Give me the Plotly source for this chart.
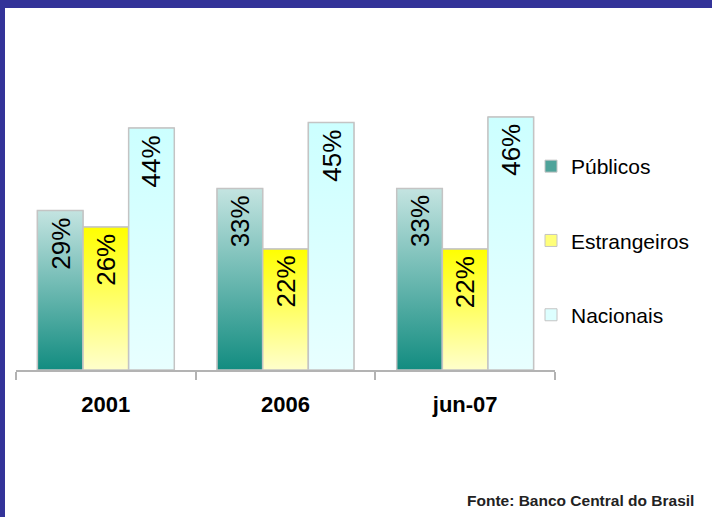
import plotly.graph_objects as go

# Participação no total de ativos do sistema bancário, por controle de capital
categories = ["2001", "2006", "jun-07"]
series_names = ["Públicos", "Estrangeiros", "Nacionais"]
publicos = [29, 33, 33]
estrangeiros = [26, 22, 22]
nacionais = [44, 45, 46]
series_values = [publicos, estrangeiros, nacionais]

# vertical gradient per series: (bottom colour, top colour)
gradients = [("#128C80", "#C4E4E1"), ("#FFFFCC", "#FFFF00"), ("#E8FFFF", "#CCFFFF")]
swatches = ["#4FA39A", "#FFFF7A", "#DDFFFF"]
outline = "#C4C4C4"
axis_grey = "#B3B3B3"

# page geometry (pixels)
W, H = 712, 517
ML, MR, MT, MB = 16, 157, 95, 147
PW, PH = W - ML - MR, H - MT - MB
Y_MAX = 50


def px_x(p):
    return (p - ML) / PW


def px_y(p):
    return (H - MB - p) / PH


BAR_W = 0.254
x_pos = list(range(len(categories)))

fig = go.Figure()

# base bars (also provide the legend swatches)
for i, (name, vals) in enumerate(zip(series_names, series_values)):
    fig.add_trace(go.Bar(
        x=x_pos, y=vals, name=name, legendgroup=name,
        width=BAR_W, offset=-1.5 * BAR_W + i * BAR_W,
        marker=dict(color=swatches[i], line=dict(color=outline, width=1)),
        hoverinfo="skip",
    ))

# gradient-filled faces drawn over each bar, plus the value labels
for i, (name, vals) in enumerate(zip(series_names, series_values)):
    off = -1.5 * BAR_W + i * BAR_W
    bottom, top = gradients[i]
    for xc, v in zip(x_pos, vals):
        x0, x1 = xc + off, xc + off + BAR_W
        fig.add_trace(go.Scatter(
            x=[x0, x1, x1, x0, x0], y=[0, 0, v, v, 0],
            mode="lines", fill="toself",
            line=dict(color=outline, width=1.5),
            fillgradient=dict(type="vertical", start=0, stop=v,
                              colorscale=[[0, bottom], [1, top]]),
            showlegend=False, hoverinfo="skip",
        ))
        fig.add_annotation(
            x=(x0 + x1) / 2, y=v, text=f"{v}%", textangle=-90,
            xanchor="center", yanchor="top", yshift=-5, showarrow=False,
            font=dict(family="Arial, Liberation Sans", size=26, color="black"),
        )

fig.add_annotation(
    xref="paper", yref="paper", x=px_x(696), y=px_y(500),
    xanchor="right", yanchor="middle", showarrow=False,
    text="Fonte: Banco Central do Brasil",
    font=dict(family="Liberation Sans Narrow, Arial Narrow, Liberation Sans",
              size=15.5, color="#222222", weight="bold"),
)

# dark blue frame along the top and left edges
frame = "#333399"
fig.add_shape(type="rect", xref="paper", yref="paper", layer="above",
              x0=px_x(-2), x1=px_x(W + 2), y0=px_y(8), y1=px_y(-2),
              fillcolor=frame, line=dict(width=0))
fig.add_shape(type="rect", xref="paper", yref="paper", layer="above",
              x0=px_x(-2), x1=px_x(5), y0=px_y(H + 2), y1=px_y(-2),
              fillcolor=frame, line=dict(width=0))

fig.update_layout(
    width=W, height=H,
    margin=dict(l=ML, r=MR, t=MT, b=MB),
    paper_bgcolor="white", plot_bgcolor="white",
    barmode="overlay",
    showlegend=True,
    legend=dict(
        x=px_x(531), xanchor="left", y=px_y(146), yanchor="top",
        font=dict(family="Arial, Liberation Sans", size=21, color="black"),
        tracegroupgap=44, traceorder="grouped",
        bgcolor="rgba(0,0,0,0)",
    ),
    xaxis=dict(
        range=[-0.5, len(categories) - 0.5],
        tickvals=x_pos, ticktext=categories, ticks="",
        ticklabelstandoff=14,
        tickfont=dict(family="Arial, Liberation Sans", size=22, color="black",
                      weight="bold"),
        showline=True, linecolor=axis_grey, linewidth=2,
        showgrid=False, zeroline=False,
        minor=dict(tickvals=[k - 0.5 for k in range(len(categories) + 1)],
                   ticks="outside", ticklen=8, tickwidth=2,
                   tickcolor=axis_grey, showgrid=False),
    ),
    yaxis=dict(range=[0, Y_MAX], visible=False),
)

fig.write_html("out.html")
